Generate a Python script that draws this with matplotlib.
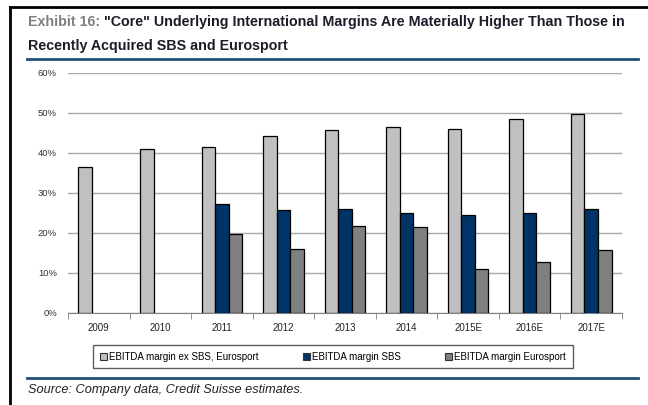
import matplotlib.pyplot as plt
import numpy as np
from matplotlib.patches import Patch
from matplotlib.lines import Line2D

plt.rcParams['font.family'] = ['Liberation Sans', 'DejaVu Sans']

# data
years = ['2009', '2010', '2011', '2012', '2013', '2014', '2015E', '2016E', '2017E']
ex_sbs_euro = [36.4, 40.9, 41.5, 44.2, 45.7, 46.6, 46.1, 48.4, 49.7]
sbs = [np.nan, np.nan, 27.2, 25.7, 26.0, 25.1, 24.5, 25.1, 26.0]
eurosport = [np.nan, np.nan, 19.8, 16.1, 21.8, 21.5, 11.0, 12.8, 15.8]

labels = ['EBITDA margin ex SBS, Eurosport', 'EBITDA margin SBS', 'EBITDA margin Eurosport']
colors = ['#c0c0c0', '#003366', '#808080']

W, H = 648, 405
fig = plt.figure(figsize=(W / 100, H / 100), dpi=100)
ax = fig.add_axes([68 / W, 1 - 313 / H, (622 - 68) / W, (313 - 73) / H])

x = np.arange(len(years))
bw = 0.22
for i, (vals, c) in enumerate(zip([ex_sbs_euro, sbs, eurosport], colors)):
    ax.bar(x + (i - 1) * bw, vals, bw, color=c, edgecolor='black', linewidth=0.9, zorder=3)

ax.set_ylim(0, 60)
ax.set_xlim(-0.5, len(years) - 0.5)
ax.set_yticks(range(0, 61, 10))
ax.set_yticklabels([f'{v}%' for v in range(0, 61, 10)], fontsize=6.8, color='#333333')
ax.yaxis.grid(True, color='#a8a8a8', linewidth=1.0, zorder=0)
ax.tick_params(axis='y', length=0, pad=8)
ax.set_xticks(x)
ax.set_xticklabels(years, fontsize=7, color='#222222')
ax.set_xticks(np.arange(-0.5, len(years), 1.0), minor=True)
ax.tick_params(axis='x', which='major', length=0, pad=7)
ax.tick_params(axis='x', which='minor', length=4, color='#808080', direction='out')
for s in ['top', 'right', 'left']:
    ax.spines[s].set_visible(False)
ax.spines['bottom'].set_color('#808080')

# legend
handles = [Patch(facecolor=c, edgecolor='#333333', linewidth=0.8) for c in colors]
leg = fig.legend(handles, labels, ncol=3, loc='center', bbox_to_anchor=(333 / W, 1 - 356.5 / H),
                 fontsize=7, frameon=True, fancybox=False, edgecolor='#333333',
                 handlelength=0.7, handleheight=0.7, handletextpad=0.2, columnspacing=4.6,
                 borderpad=0.7, borderaxespad=0)
leg.get_frame().set_linewidth(1.0)

# title
t1 = fig.text(28 / W, 1 - 22 / H, 'Exhibit 16: ', fontsize=10.3, fontweight='bold',
              color='#808080', va='center')
fig.canvas.draw()
bb = t1.get_window_extent()
fig.text(bb.x1 / W, 1 - 22 / H, '"Core" Underlying International Margins Are Materially Higher Than Those in',
         fontsize=10.3, fontweight='bold', color='#1c1c2a', va='center')
fig.text(28 / W, 1 - 46 / H, 'Recently Acquired SBS and Eurosport', fontsize=10.3,
         fontweight='bold', color='#1c1c2a', va='center')

# rules and border
fig.add_artist(Line2D([27 / W, 638 / W], [1 - 59 / H] * 2, color='#1f4e79', linewidth=2))
fig.add_artist(Line2D([27 / W, 638 / W], [1 - 377.5 / H] * 2, color='#1f4e79', linewidth=2))
fig.add_artist(Line2D([10 / W, 1], [1 - 7 / H] * 2, color='black', linewidth=2))
fig.add_artist(Line2D([10 / W, 10 / W], [1 - 7 / H, 0], color='black', linewidth=2))

fig.text(28 / W, 1 - 390 / H, 'Source: Company data, Credit Suisse estimates.', fontsize=9.2,
         style='italic', color='#222222', va='center')

fig.savefig('out.png', dpi=100)
